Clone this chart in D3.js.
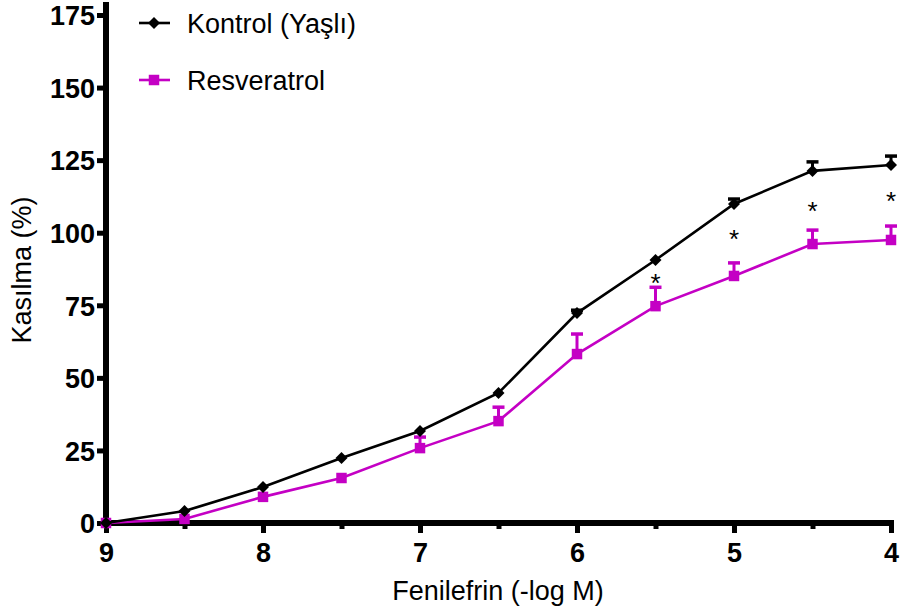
<!DOCTYPE html>
<html>
<head>
<meta charset="utf-8">
<script src="https://cdn.jsdelivr.net/npm/d3@7"></script>
<style>
  body { margin: 0; background: #fff; }
  svg { font-family: "Liberation Sans", Arial, sans-serif; }
</style>
</head>
<body>
<div id="chart"></div>
<script>
// doses (-log M)
var doses = [9, 8.5, 8, 7.5, 7, 6.5, 6, 5.5, 5, 4.5, 4];
var kontrol = [0, 4.1, 12.4, 22.4, 31.7, 44.8, 72.3, 90.6, 109.9, 121.3, 123.3];
var kontrolSem = [0, 0, 0, 0, 0, 0, 1.0, 0, 1.7, 3.1, 3.1];
var resveratrol = [0, 1.4, 9.0, 15.5, 25.8, 35.1, 58.2, 74.7, 85.1, 96.1, 97.5];
var resveratrolSem = [0, 0, 0, 0, 3.8, 4.8, 6.9, 6.5, 4.5, 4.8, 4.8];
// significance marks (dose, height on y scale)
var starDoses = [5.5, 5, 4.5, 4];
var starLevels = [84.7, 99.9, 109.5, 113];
var yTicks = [0, 25, 50, 75, 100, 125, 150, 175];
var xTicks = [9, 8, 7, 6, 5, 4];
var xMinor = [8.5, 7.5, 6.5, 5.5, 4.5];

var width = 900, height = 613;
var magenta = "#c400c4";
var font = "Liberation Sans, Arial, sans-serif";

var svg = d3.select("#chart").append("svg")
  .attr("width", width)
  .attr("height", height);

var x = d3.scaleLinear().domain([9, 4]).range([106, 891]);
var y = d3.scaleLinear().domain([0, 175]).range([523, 15]);

// y axis
svg.append("g")
  .attr("transform", "translate(106,0)")
  .call(d3.axisLeft(y).tickValues(yTicks).tickSize(9).tickSizeOuter(0).tickFormat(d3.format("d")))
  .call(function (g) {
    g.select(".domain").remove();
    g.selectAll(".tick line").attr("stroke-width", 5);
    g.selectAll(".tick text")
      .attr("x", -11)
      .attr("dy", "0.36em")
      .attr("font-size", 27)
      .attr("font-weight", "bold")
      .attr("font-family", font);
  });
svg.append("line")
  .attr("x1", 106).attr("x2", 106)
  .attr("y1", 2).attr("y2", 526)
  .attr("stroke", "#000").attr("stroke-width", 6);

// x axis major + minor
svg.append("g")
  .attr("transform", "translate(0,523)")
  .call(d3.axisBottom(x).tickValues(xTicks).tickSize(10).tickSizeOuter(0).tickFormat(d3.format("d")))
  .call(function (g) {
    g.select(".domain").remove();
    g.selectAll(".tick line").attr("stroke-width", 5);
    g.selectAll(".tick text")
      .attr("y", 20)
      .attr("font-size", 27)
      .attr("font-weight", "bold")
      .attr("font-family", font);
  });
svg.append("g")
  .attr("transform", "translate(0,523)")
  .call(d3.axisBottom(x).tickValues(xMinor).tickSize(6).tickFormat(""))
  .call(function (g) {
    g.select(".domain").remove();
    g.selectAll(".tick line").attr("stroke-width", 5);
  });
svg.append("line")
  .attr("x1", 103).attr("x2", 894)
  .attr("y1", 523).attr("y2", 523)
  .attr("stroke", "#000").attr("stroke-width", 6);

// axis titles
svg.append("text")
  .attr("x", 498).attr("y", 600)
  .attr("text-anchor", "middle")
  .attr("font-size", 27)
  .text("Fenilefrin (-log M)");
svg.append("text")
  .attr("transform", "translate(31,270) rotate(-90)")
  .attr("text-anchor", "middle")
  .attr("font-size", 27)
  .text("Kasılma (%)");

// marker shapes: square, and square turned 45deg for the diamond
function markerTransform(cx, cy, diamond) {
  return "translate(" + cx + "," + cy + ")" + (diamond ? " rotate(45)" : "");
}

function drawSeries(vals, sems, color, diamond, size) {
  var pts = doses.map(function (d, i) { return { d: d, v: vals[i], s: sems[i] }; });
  var g = svg.append("g");

  // error bars (upper)
  g.selectAll(".err").data(pts.filter(function (p) { return p.s > 0; }))
    .join("g")
    .each(function (p) {
      var e = d3.select(this);
      e.append("line")
        .attr("x1", x(p.d)).attr("x2", x(p.d))
        .attr("y1", y(p.v)).attr("y2", y(p.v + p.s))
        .attr("stroke", color).attr("stroke-width", 3);
      e.append("line")
        .attr("x1", x(p.d) - 6).attr("x2", x(p.d) + 6)
        .attr("y1", y(p.v + p.s)).attr("y2", y(p.v + p.s))
        .attr("stroke", color).attr("stroke-width", 3.5);
    });

  g.append("path")
    .datum(pts)
    .attr("fill", "none")
    .attr("stroke", color)
    .attr("stroke-width", 2.6)
    .attr("d", d3.line().x(function (p) { return x(p.d); }).y(function (p) { return y(p.v); }));

  g.selectAll(".pt").data(pts)
    .join("path")
    .attr("transform", function (p) { return markerTransform(x(p.d), y(p.v), diamond); })
    .attr("d", d3.symbol().type(d3.symbolSquare).size(size))
    .attr("fill", color);
}

drawSeries(resveratrol, resveratrolSem, magenta, false, 110);
drawSeries(kontrol, kontrolSem, "#000", true, 72);

// significance stars
svg.append("g").selectAll("text").data(starDoses)
  .join("text")
  .attr("x", function (d) { return x(d); })
  .attr("y", function (d, i) { return y(starLevels[i]); })
  .attr("dy", "0.58em")
  .attr("text-anchor", "middle")
  .attr("font-size", 26)
  .text("*");

// legend
var legend = [
  { name: "Kontrol (Yaşlı)", color: "#000", diamond: true, size: 72, yPos: 23 },
  { name: "Resveratrol", color: magenta, diamond: false, size: 110, yPos: 80 }
];
var lg = svg.append("g").selectAll("g").data(legend).join("g")
  .attr("transform", function (d) { return "translate(0," + d.yPos + ")"; });
lg.append("line")
  .attr("x1", 139).attr("x2", 170)
  .attr("stroke", function (d) { return d.color; })
  .attr("stroke-width", 2.6);
lg.append("path")
  .attr("transform", function (d) { return markerTransform(154, 0, d.diamond); })
  .attr("d", function (d) { return d3.symbol().type(d3.symbolSquare).size(d.size)(); })
  .attr("fill", function (d) { return d.color; });
lg.append("text")
  .attr("x", 187).attr("y", 10)
  .attr("font-size", 27)
  .text(function (d) { return d.name; });
</script>
</body>
</html>
